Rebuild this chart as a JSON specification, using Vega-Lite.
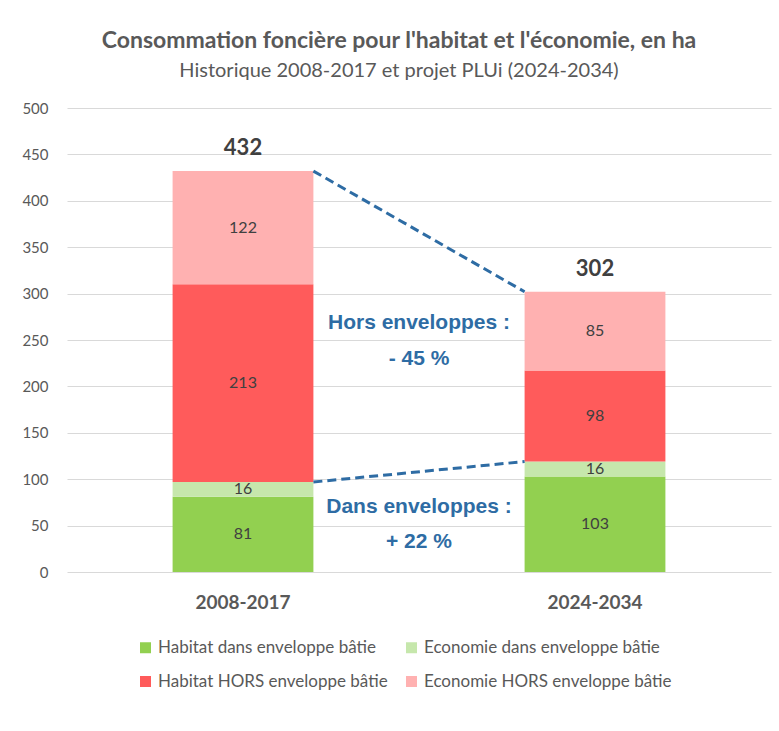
{
  "$schema": "https://vega.github.io/schema/vega-lite/v6.json",
  "autosize": {"type": "none"},
  "width": 704,
  "height": 464,
  "padding": {"left": 67, "top": 108, "right": 8, "bottom": 159},
  "background": "white",
  "title": {
    "text": "Consommation foncière pour l'habitat et l'économie, en ha",
    "subtitle": "Historique 2008-2017 et projet PLUi (2024-2034)",
    "anchor": "middle",
    "frame": "group",
    "dx": -20,
    "offset": 20,
    "font": "Lato",
    "fontSize": 23,
    "fontWeight": "bold",
    "color": "#595959",
    "subtitleFont": "Lato",
    "subtitleFontSize": 20,
    "subtitleColor": "#595959",
    "subtitlePadding": 8
  },
  "datasets": {
    "conso": [
      {"periode": "2008-2017", "categorie": "Habitat dans enveloppe bâtie", "valeur": 81, "ordre": 1},
      {"periode": "2008-2017", "categorie": "Economie dans enveloppe bâtie", "valeur": 16, "ordre": 2},
      {"periode": "2008-2017", "categorie": "Habitat HORS enveloppe bâtie", "valeur": 213, "ordre": 3},
      {"periode": "2008-2017", "categorie": "Economie HORS enveloppe bâtie", "valeur": 122, "ordre": 4},
      {"periode": "2024-2034", "categorie": "Habitat dans enveloppe bâtie", "valeur": 103, "ordre": 1},
      {"periode": "2024-2034", "categorie": "Economie dans enveloppe bâtie", "valeur": 16, "ordre": 2},
      {"periode": "2024-2034", "categorie": "Habitat HORS enveloppe bâtie", "valeur": 98, "ordre": 3},
      {"periode": "2024-2034", "categorie": "Economie HORS enveloppe bâtie", "valeur": 85, "ordre": 4}
    ],
    "liaisons": [
      {"de": "2008-2017", "a": "2024-2034", "v_de": 432, "v_a": 302},
      {"de": "2008-2017", "a": "2024-2034", "v_de": 97, "v_a": 119}
    ],
    "annotations": [
      {"ref": "2008-2017", "y": 268, "texte": "Hors enveloppes :"},
      {"ref": "2008-2017", "y": 229, "texte": "- 45 %"},
      {"ref": "2008-2017", "y": 70, "texte": "Dans enveloppes :"},
      {"ref": "2008-2017", "y": 32, "texte": "+ 22 %"}
    ]
  },
  "layer": [
    {
      "data": {"name": "conso"},
      "transform": [
        {"stack": "valeur", "groupby": ["periode"], "sort": [{"field": "ordre", "order": "ascending"}], "as": ["v0", "v1"]}
      ],
      "mark": {"type": "bar"},
      "encoding": {
        "x": {
          "field": "periode", "type": "nominal", "title": null,
          "scale": {"paddingInner": 0.6, "paddingOuter": 0.3},
          "axis": {
            "labelAngle": 0, "domain": false, "ticks": false, "tickSize": 0,
            "labelFont": "Lato", "labelFontSize": 19, "labelFontWeight": "bold",
            "labelColor": "#595959", "labelPadding": 21, "grid": false
          }
        },
        "y": {
          "field": "v0", "type": "quantitative", "title": null,
          "scale": {"domain": [0, 500], "nice": false},
          "axis": {
            "values": [0, 50, 100, 150, 200, 250, 300, 350, 400, 450, 500],
            "domain": false, "ticks": false, "tickSize": 0,
            "labelFont": "Lato", "labelFontSize": 15, "labelColor": "#595959",
            "labelPadding": 19, "gridColor": "#d9d9d9", "gridWidth": 1
          }
        },
        "y2": {"field": "v1"},
        "color": {
          "field": "categorie", "type": "nominal",
          "scale": {
            "domain": ["Habitat dans enveloppe bâtie", "Economie dans enveloppe bâtie", "Habitat HORS enveloppe bâtie", "Economie HORS enveloppe bâtie"],
            "range": ["#92D050", "#C6E7AC", "#FF5B5B", "#FFB1B1"]
          },
          "legend": {
            "orient": "none", "legendX": 70, "legendY": 531, "columns": 2, "direction": "horizontal",
            "title": null, "padding": 0,
            "symbolType": "square", "symbolSize": 121, "symbolStrokeWidth": 0, "symbolOpacity": 1,
            "labelFont": "Lato", "labelFontSize": 17, "labelColor": "#595959",
            "labelOffset": 4, "labelLimit": 0, "rowPadding": 16, "columnPadding": 15
          }
        }
      }
    },
    {
      "data": {"name": "conso"},
      "transform": [
        {"stack": "valeur", "groupby": ["periode"], "sort": [{"field": "ordre", "order": "ascending"}], "as": ["v0", "v1"]},
        {"calculate": "(datum.v0 + datum.v1) / 2", "as": "milieu"}
      ],
      "mark": {"type": "text", "font": "Lato", "fontSize": 16, "color": "#404040", "baseline": "middle", "align": "center"},
      "encoding": {
        "x": {"field": "periode", "type": "nominal"},
        "y": {"field": "milieu", "type": "quantitative"},
        "text": {"field": "valeur", "type": "quantitative"}
      }
    },
    {
      "data": {"name": "conso"},
      "transform": [
        {"aggregate": [{"op": "sum", "field": "valeur", "as": "total"}], "groupby": ["periode"]}
      ],
      "mark": {"type": "text", "font": "Lato", "fontSize": 22, "fontWeight": "bold", "color": "#404040", "baseline": "alphabetic", "align": "center", "dy": -16},
      "encoding": {
        "x": {"field": "periode", "type": "nominal"},
        "y": {"field": "total", "type": "quantitative"},
        "text": {"field": "total", "type": "quantitative"}
      }
    },
    {
      "data": {"name": "liaisons"},
      "mark": {"type": "rule", "strokeDash": [9, 5], "strokeWidth": 3, "color": "#2E6CA4"},
      "encoding": {
        "x": {"field": "de", "type": "nominal", "bandPosition": 1},
        "x2": {"field": "a", "bandPosition": 0},
        "y": {"field": "v_de", "type": "quantitative"},
        "y2": {"field": "v_a"}
      }
    },
    {
      "data": {"name": "annotations"},
      "mark": {"type": "text", "font": "Liberation Sans", "fontSize": 21, "fontWeight": "bold", "color": "#2E6CA4", "baseline": "middle", "align": "center"},
      "encoding": {
        "x": {"field": "ref", "type": "nominal", "bandPosition": 1.75},
        "y": {"field": "y", "type": "quantitative"},
        "text": {"field": "texte", "type": "nominal"}
      }
    }
  ],
  "config": {
    "view": {"stroke": null},
    "axis": {"titleFont": "Lato"}
  }
}
